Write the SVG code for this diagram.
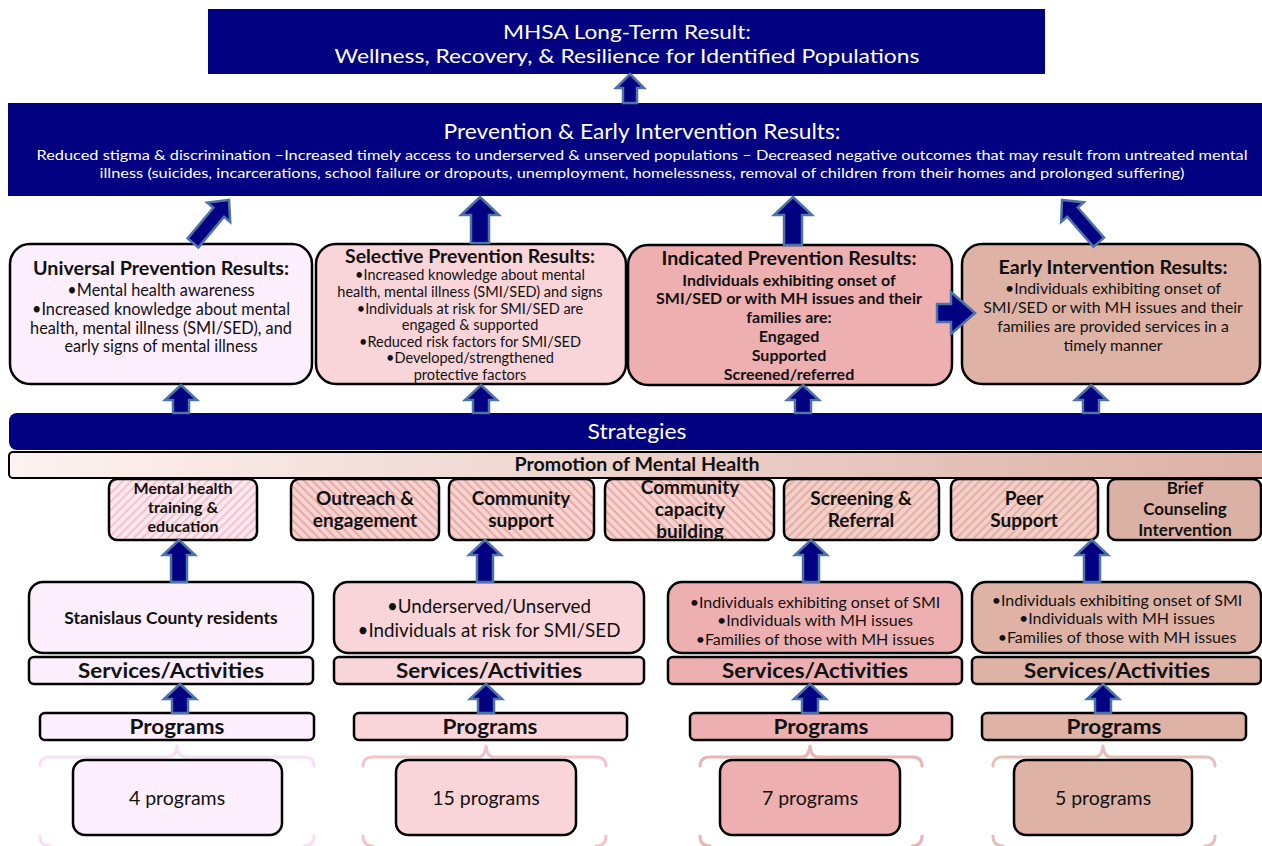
<svg xmlns="http://www.w3.org/2000/svg" width="1262" height="846" viewBox="0 0 1262 846">
<defs>
<style>
.t{font-family:Lato,"Open Sans","Liberation Sans",sans-serif;text-anchor:middle;fill:#111}
.w{fill:#fff}
.b{font-weight:bold}
.navy{fill:#000080}
.box{stroke:#000;stroke-width:2.5}
.c1{fill:#fdeffd}
.c2{fill:#f9d5da}
.c3{fill:#eeafb1}
.c4{fill:#deb3a6}
.arr{fill:#000080;stroke:#4e73a6;stroke-width:2.5;stroke-linejoin:miter}
.br{fill:none;stroke-width:3;stroke-linecap:round;stroke-linejoin:round}
</style>
<linearGradient id="promo" x1="0" y1="0" x2="1" y2="0">
<stop offset="0" stop-color="#fdf3f1"/>
<stop offset="1" stop-color="#dcb0a4"/>
</linearGradient>
<pattern id="hatchA" patternUnits="userSpaceOnUse" width="6" height="6" patternTransform="rotate(45)">
<rect width="6" height="6" fill="#fde8ef"/>
<rect width="2" height="6" fill="#f4c3cd"/>
</pattern>
<pattern id="hatchB" patternUnits="userSpaceOnUse" width="6" height="6" patternTransform="rotate(-45)">
<rect width="6" height="6" fill="#f6d3cf"/>
<rect width="2" height="6" fill="#e6aaa9"/>
</pattern>
<pattern id="hatchC" patternUnits="userSpaceOnUse" width="6" height="6" patternTransform="rotate(45)">
<rect width="6" height="6" fill="#f2d0c8"/>
<rect width="2" height="6" fill="#e3aea7"/>
</pattern>
</defs>
<rect width="1262" height="846" fill="#fff"/>

<g id="long-term-result">
<rect x="208" y="9" width="837" height="65" class="navy"/>
<text class="t w" x="627" y="39" font-size="20" textLength="248" lengthAdjust="spacingAndGlyphs">MHSA Long-Term Result:</text>
<text class="t w" x="627" y="63" font-size="20" textLength="585" lengthAdjust="spacingAndGlyphs">Wellness, Recovery, &amp; Resilience for Identified Populations</text>
</g>

<g id="pei-results">
<rect x="8" y="103" width="1262" height="93" class="navy"/>
<text class="t w" x="642" y="139" font-size="21" textLength="397" lengthAdjust="spacingAndGlyphs">Prevention &amp; Early Intervention Results:</text>
<text class="t w" x="642" y="160" font-size="14" textLength="1211" lengthAdjust="spacingAndGlyphs">Reduced stigma &amp; discrimination –Increased timely access to underserved &amp; unserved populations – Decreased negative outcomes that may result  from untreated mental</text>
<text class="t w" x="642" y="178" font-size="14" textLength="1085" lengthAdjust="spacingAndGlyphs">illness (suicides, incarcerations, school failure or dropouts, unemployment, homelessness, removal of children from their homes and prolonged suffering)</text>
</g>

<g id="universal-results">
<rect x="10" y="244" width="302" height="140" rx="20" class="box c1"/>
<text class="t b" x="161" y="275" font-size="19" textLength="256" lengthAdjust="spacingAndGlyphs">Universal Prevention Results:</text>
<text class="t" x="161" y="296" font-size="16.3">•Mental health awareness</text>
<text class="t" x="161" y="315" font-size="16.3">•Increased knowledge about mental</text>
<text class="t" x="161" y="334" font-size="16.3">health, mental illness (SMI/SED), and</text>
<text class="t" x="161" y="352" font-size="16.3">early signs of mental illness</text>
</g>

<g id="selective-results">
<rect x="316" y="244" width="310" height="140" rx="20" class="box c2"/>
<text class="t b" x="470" y="263" font-size="18" textLength="250" lengthAdjust="spacingAndGlyphs">Selective Prevention Results:</text>
<text class="t" x="470" y="280" font-size="14.5">•Increased knowledge about mental</text>
<text class="t" x="470" y="297" font-size="14.5">health, mental illness (SMI/SED) and signs</text>
<text class="t" x="470" y="314" font-size="14.5">•Individuals at risk for SMI/SED are</text>
<text class="t" x="470" y="330" font-size="14.5">engaged &amp; supported</text>
<text class="t" x="470" y="347" font-size="14.5">•Reduced risk factors for SMI/SED</text>
<text class="t" x="470" y="363" font-size="14.5">•Developed/strengthened</text>
<text class="t" x="470" y="380" font-size="14.5">protective factors</text>
</g>

<g id="indicated-results">
<rect x="628" y="245" width="324" height="140" rx="20" class="box c3"/>
<text class="t b" x="789" y="265" font-size="18" textLength="255" lengthAdjust="spacingAndGlyphs">Indicated Prevention Results:</text>
<text class="t b" x="789" y="286" font-size="16">Individuals exhibiting onset of</text>
<text class="t b" x="789" y="304" font-size="16">SMI/SED or with MH issues and their</text>
<text class="t b" x="789" y="323" font-size="16">families are:</text>
<text class="t b" x="789" y="342" font-size="16">Engaged</text>
<text class="t b" x="789" y="361" font-size="16">Supported</text>
<text class="t b" x="789" y="380" font-size="16">Screened/referred</text>
</g>

<g id="early-intervention-results">
<rect x="962" y="244" width="298" height="140" rx="20" class="box c4"/>
<text class="t b" x="1113" y="274" font-size="18" textLength="229" lengthAdjust="spacingAndGlyphs">Early Intervention Results:</text>
<text class="t" x="1113" y="294" font-size="15.8">•Individuals exhibiting onset of</text>
<text class="t" x="1113" y="313" font-size="15.8">SMI/SED or with MH issues and their</text>
<text class="t" x="1113" y="332" font-size="15.8">families are provided services in a</text>
<text class="t" x="1113" y="351" font-size="15.8">timely manner</text>
</g>

<g id="strategies">
<rect x="9" y="413" width="1270" height="37" rx="8" class="navy"/>
<text class="t w" x="637" y="439" font-size="21" textLength="99" lengthAdjust="spacingAndGlyphs">Strategies</text>
</g>

<g id="promotion">
<rect x="9" y="452" width="1270" height="26" rx="4" fill="url(#promo)" stroke="#000" stroke-width="2"/>
<text class="t b" x="637" y="471" font-size="18.5" textLength="245" lengthAdjust="spacingAndGlyphs">Promotion of Mental Health</text>
</g>

<g id="strategy-mh-training">
<rect x="109" y="479" width="148" height="61" rx="8" class="box" fill="url(#hatchA)"/>
<text class="t b" x="183" y="494" font-size="16">Mental health</text>
<text class="t b" x="183" y="513" font-size="16">training &amp;</text>
<text class="t b" x="183" y="532" font-size="16">education</text>
</g>
<g id="strategy-outreach">
<rect x="291" y="479" width="148" height="61" rx="8" class="box" fill="url(#hatchB)"/>
<text class="t b" x="365" y="505" font-size="19">Outreach &amp;</text>
<text class="t b" x="365" y="527" font-size="19">engagement</text>
</g>
<g id="strategy-community-support">
<rect x="449" y="479" width="145" height="61" rx="8" class="box" fill="url(#hatchB)"/>
<text class="t b" x="521" y="505" font-size="19">Community</text>
<text class="t b" x="521" y="527" font-size="19">support</text>
</g>
<g id="strategy-capacity">
<rect x="605" y="479" width="169" height="61" rx="8" class="box" fill="url(#hatchB)"/>
<text class="t b" x="690" y="494" font-size="19">Community</text>
<text class="t b" x="690" y="516" font-size="19">capacity</text>
<text class="t b" x="690" y="538" font-size="19">building</text>
</g>
<g id="strategy-screening">
<rect x="784" y="479" width="155" height="61" rx="8" class="box" fill="url(#hatchC)"/>
<text class="t b" x="861" y="505" font-size="19">Screening &amp;</text>
<text class="t b" x="861" y="527" font-size="19">Referral</text>
</g>
<g id="strategy-peer">
<rect x="951" y="479" width="147" height="61" rx="8" class="box" fill="url(#hatchC)"/>
<text class="t b" x="1024" y="505" font-size="19">Peer</text>
<text class="t b" x="1024" y="527" font-size="19">Support</text>
</g>
<g id="strategy-brief">
<rect x="1108" y="479" width="153" height="61" rx="8" class="box" fill="#dcb1a5"/>
<text class="t b" x="1185" y="494" font-size="17">Brief</text>
<text class="t b" x="1185" y="515" font-size="17">Counseling</text>
<text class="t b" x="1185" y="536" font-size="17">Intervention</text>
</g>

<g id="population-universal">
<rect x="29" y="582" width="284" height="71" rx="14" class="box c1"/>
<text class="t b" x="171" y="624" font-size="17.5">Stanislaus County residents</text>
<rect x="29" y="657" width="284" height="27" rx="5" class="box c1"/>
<text class="t b" x="171" y="678" font-size="20" textLength="186" lengthAdjust="spacingAndGlyphs">Services/Activities</text>
</g>
<g id="population-selective">
<rect x="334" y="582" width="310" height="71" rx="14" class="box c2"/>
<text class="t" x="489" y="613" font-size="18.8">•Underserved/Unserved</text>
<text class="t" x="489" y="637" font-size="18.8">•Individuals at risk for SMI/SED</text>
<rect x="334" y="657" width="310" height="27" rx="5" class="box c2"/>
<text class="t b" x="489" y="678" font-size="20" textLength="186" lengthAdjust="spacingAndGlyphs">Services/Activities</text>
</g>
<g id="population-indicated">
<rect x="668" y="582" width="294" height="71" rx="14" class="box c3"/>
<text class="t" x="815" y="608" font-size="16">•Individuals exhibiting onset of SMI</text>
<text class="t" x="815" y="626" font-size="16">•Individuals with MH issues</text>
<text class="t" x="815" y="645" font-size="16">•Families of those with MH issues</text>
<rect x="668" y="657" width="294" height="27" rx="5" class="box c3"/>
<text class="t b" x="815" y="678" font-size="20" textLength="186" lengthAdjust="spacingAndGlyphs">Services/Activities</text>
</g>
<g id="population-early">
<rect x="972" y="582" width="289" height="71" rx="14" class="box c4"/>
<text class="t" x="1117" y="606" font-size="16">•Individuals exhibiting onset of SMI</text>
<text class="t" x="1117" y="624" font-size="16">•Individuals with MH issues</text>
<text class="t" x="1117" y="643" font-size="16">•Families of those with MH issues</text>
<rect x="972" y="657" width="289" height="27" rx="5" class="box c4"/>
<text class="t b" x="1117" y="678" font-size="20" textLength="186" lengthAdjust="spacingAndGlyphs">Services/Activities</text>
</g>

<g id="programs-universal">
<rect x="40" y="713" width="274" height="27" rx="5" class="box c1"/>
<text class="t b" x="177" y="734" font-size="20" textLength="95" lengthAdjust="spacingAndGlyphs">Programs</text>
<path class="br" stroke="#f9dff3" d="M40,766 Q40,757 50,757 L168,757 Q176,757 177,746 Q178,757 186,757 L304,757 Q314,757 314,766"/>
<path class="br" stroke="#f9dff3" d="M40,836 Q40,846 50,846 M304,846 Q314,846 314,836"/>
<rect x="73" y="760" width="209" height="75" rx="12" class="box c1"/>
<text class="t" x="177" y="805" font-size="19.5">4 programs</text>
</g>
<g id="programs-selective">
<rect x="354" y="713" width="273" height="27" rx="5" class="box c2"/>
<text class="t b" x="490" y="734" font-size="20" textLength="95" lengthAdjust="spacingAndGlyphs">Programs</text>
<path class="br" stroke="#f2c4ca" d="M363,766 Q363,757 373,757 L478,757 Q485,757 486,746 Q487,757 494,757 L596,757 Q606,757 606,766"/>
<path class="br" stroke="#f2c4ca" d="M363,836 Q363,846 373,846 M596,846 Q606,846 606,836"/>
<rect x="396" y="760" width="180" height="75" rx="12" class="box c2"/>
<text class="t" x="486" y="805" font-size="19.5">15 programs</text>
</g>
<g id="programs-indicated">
<rect x="690" y="713" width="262" height="27" rx="5" class="box c3"/>
<text class="t b" x="821" y="734" font-size="20" textLength="95" lengthAdjust="spacingAndGlyphs">Programs</text>
<path class="br" stroke="#ebb3b1" d="M700,766 Q700,757 710,757 L802,757 Q809,757 810,746 Q811,757 818,757 L912,757 Q922,757 922,766"/>
<path class="br" stroke="#ebb3b1" d="M700,836 Q700,846 710,846 M912,846 Q922,846 922,836"/>
<rect x="720" y="760" width="180" height="75" rx="12" class="box c3"/>
<text class="t" x="810" y="805" font-size="19.5">7 programs</text>
</g>
<g id="programs-early">
<rect x="982" y="713" width="264" height="27" rx="5" class="box c4"/>
<text class="t b" x="1114" y="734" font-size="20" textLength="95" lengthAdjust="spacingAndGlyphs">Programs</text>
<path class="br" stroke="#e4c0b6" d="M993,766 Q993,757 1003,757 L1095,757 Q1102,757 1103,746 Q1104,757 1111,757 L1205,757 Q1215,757 1215,766"/>
<path class="br" stroke="#e4c0b6" d="M993,836 Q993,846 1003,846 M1205,846 Q1215,846 1215,836"/>
<rect x="1014" y="760" width="178" height="75" rx="12" class="box c4"/>
<text class="t" x="1103" y="805" font-size="19.5">5 programs</text>
</g>

<g id="connectors">
<polygon class="arr" points="630,74 644,88 637,88 637,103 623,103 623,88 616,88"/>
<polygon class="arr" transform="translate(229,200) rotate(40)" points="0,0 15,16 7,16 7,56 -7,56 -7,16 -15,16"/>
<polygon class="arr" points="480,197 499,215 489,215 489,243 471,243 471,215 461,215"/>
<polygon class="arr" points="793,197 812,215 802,215 802,245 784,245 784,215 774,215"/>
<polygon class="arr" transform="translate(1062,200) rotate(-41)" points="0,0 15,16 7,16 7,56 -7,56 -7,16 -15,16"/>
<polygon class="arr" points="975,313 951,292 951,304 937,304 937,322 951,322 951,334"/>
<polygon class="arr" points="181,385 197,400 189,400 189,413 173,413 173,400 165,400"/>
<polygon class="arr" points="481,385 497,400 489,400 489,413 473,413 473,400 465,400"/>
<polygon class="arr" points="803,385 819,400 811,400 811,413 795,413 795,400 787,400"/>
<polygon class="arr" points="1091,385 1107,400 1099,400 1099,413 1083,413 1083,400 1075,400"/>
<polygon class="arr" points="179,540 195,555 187,555 187,582 171,582 171,555 163,555"/>
<polygon class="arr" points="485,540 501,555 493,555 493,582 477,582 477,555 469,555"/>
<polygon class="arr" points="811,540 827,555 819,555 819,582 803,582 803,555 795,555"/>
<polygon class="arr" points="1092,540 1108,555 1100,555 1100,582 1084,582 1084,555 1076,555"/>
<polygon class="arr" points="180,684 196,699 188,699 188,713 172,713 172,699 164,699"/>
<polygon class="arr" points="486,684 502,699 494,699 494,713 478,713 478,699 470,699"/>
<polygon class="arr" points="810,684 826,699 818,699 818,713 802,713 802,699 794,699"/>
<polygon class="arr" points="1103,684 1119,699 1111,699 1111,713 1095,713 1095,699 1087,699"/>
</g>
</svg>
